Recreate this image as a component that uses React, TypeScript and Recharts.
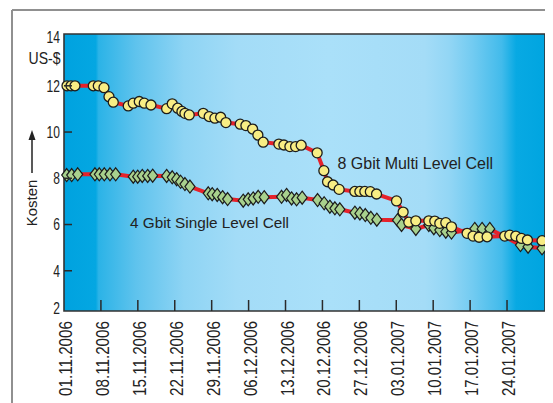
import React from 'react';
import { ComposedChart, Line, XAxis, YAxis, CartesianGrid, ReferenceArea } from 'recharts';

// x: days since 01.11.2006, y: cost in US-$
const xTickDays = [0, 7, 14, 21, 28, 35, 42, 49, 56, 63, 70, 77, 84];
const xTickLabels = [
  '01.11.2006', '08.11.2006', '15.11.2006', '22.11.2006', '29.11.2006', '06.12.2006',
  '13.12.2006', '20.12.2006', '27.12.2006', '03.01.2007', '10.01.2007', '17.01.2007', '24.01.2007',
];
const yTicks = [2, 4, 6, 8, 10, 12, 14];
const yMin = 2.26;
const yMax = 14.24;
const xMax = 91.2;

const mlcDays = [
  0.57, 1.33, 2.08, 5.55, 6.5, 7.58, 8.53, 9.34, 12.18, 13.13, 14.27, 15.22, 16.49,
  19.46, 20.52, 21.55, 22.36, 22.93, 23.74, 26.4, 27.53, 28.61, 29.7, 30.7,
  33.41, 34.49, 35.76, 36.76, 37.77, 40.74, 41.69, 42.83, 43.91, 44.97,
  48.0, 49.27, 49.97, 51.03, 52.17, 55.15, 56.1, 57.04, 58.08, 59.26,
  63.05, 64.3, 65.38, 66.71, 69.17, 70.3, 71.25, 72.39, 73.47,
  76.43, 77.56, 78.7, 80.22, 83.57, 84.52, 85.66, 86.74, 87.87, 90.64,
];
const mlcCost = [
  12.0, 12.0, 12.0, 12.0, 12.0, 11.92, 11.53, 11.29, 11.13, 11.25, 11.32, 11.25, 11.17,
  11.01, 11.22, 11.03, 10.89, 10.81, 10.74, 10.81, 10.67, 10.6, 10.64, 10.41,
  10.34, 10.28, 10.13, 9.87, 9.56, 9.48, 9.44, 9.37, 9.37, 9.43,
  9.1, 8.33, 7.85, 7.71, 7.52, 7.43, 7.43, 7.43, 7.42, 7.32,
  7.02, 6.54, 6.1, 6.16, 6.16, 6.15, 6.05, 6.08, 5.9,
  5.62, 5.5, 5.45, 5.47, 5.5, 5.54, 5.5, 5.4, 5.33, 5.3,
];

const slcDays = [
  0.51, 1.46, 2.6, 5.87, 6.69, 7.64, 8.72, 9.8, 13.13, 13.97, 14.84, 15.86, 16.81,
  19.46, 20.52, 21.36, 22.11, 22.93, 23.88, 27.35, 28.1, 29.05, 30.07, 31.02,
  33.98, 34.93, 35.87, 36.82, 37.96, 41.25, 42.2, 43.15, 44.1, 45.16,
  48.08, 49.33, 50.41, 51.36, 52.3, 55.15, 56.1, 57.13, 58.18, 59.31,
  63.24, 64.0, 66.71, 69.17, 70.12, 71.25, 72.39, 73.47,
  77.88, 79.27, 80.73, 86.55, 87.99, 90.64,
];
const slcCost = [
  8.14, 8.14, 8.17, 8.17, 8.17, 8.17, 8.17, 8.17, 8.07, 8.07, 8.1, 8.1, 8.11,
  8.1, 8.04, 7.96, 7.85, 7.75, 7.64, 7.35, 7.31, 7.28, 7.18, 7.1,
  7.03, 7.09, 7.13, 7.2, 7.18, 7.2, 7.28, 7.13, 7.09, 7.16,
  7.06, 6.92, 6.77, 6.7, 6.66, 6.51, 6.48, 6.41, 6.29, 6.21,
  6.19, 5.98, 5.81, 5.98, 5.84, 5.76, 5.69, 5.65,
  5.81, 5.81, 5.81, 5.11, 5.04, 4.97,
];

const mlcData = mlcDays.map((day, i) => ({ day, cost: mlcCost[i] }));
const slcData = slcDays.map((day, i) => ({ day, cost: slcCost[i] }));

const labelFont = '"Liberation Sans", Arial, sans-serif';
const textFont = '"Liberation Sans", Arial, sans-serif';
const ink = '#222';

const CircleDot = (p: any) => {
  if (p.cx == null || p.cy == null) return <g key={`c${p.index}`} />;
  return (
    <circle key={`c${p.index}`} cx={p.cx} cy={p.cy} r={5} fill="#f8ed84" stroke="#1c1c1c" strokeWidth={1.3} />
  );
};

const DiamondDot = (p: any) => {
  if (p.cx == null || p.cy == null) return <g key={`d${p.index}`} />;
  const { cx, cy } = p;
  return (
    <polygon
      key={`d${p.index}`}
      points={`${cx},${cy - 6.5} ${cx + 5},${cy} ${cx},${cy + 6.5} ${cx - 5},${cy}`}
      fill="#a8d18d"
      stroke="#1c1c1c"
      strokeWidth={1.2}
    />
  );
};

const YTick = (p: any) => {
  const v = p.payload.value;
  const { x, y } = p;
  const dy = v === 14 ? -2.8 : v === 2 ? -9 : 0;
  const s = String(v);
  return (
    <g>
      {v !== 2 && v !== 14 && (
        <line x1={x + 4} x2={x + 12} y1={y} y2={y} stroke="#2a2a2a" strokeWidth={1.5} />
      )}
      <text
        x={x}
        y={y + dy}
        dy="0.36em"
        textAnchor="end"
        fontFamily={labelFont}
        fontSize={16.5}
        fill={ink}
        textLength={s.length * 6.7}
        lengthAdjust="spacingAndGlyphs"
      >
        {s}
      </text>
      {v === 14 && (
        <text
          x={x + 0.5}
          y={y + dy + 21.3}
          dy="0.36em"
          textAnchor="end"
          fontFamily={labelFont}
          fontSize={16.5}
          fill={ink}
          textLength={32}
          lengthAdjust="spacingAndGlyphs"
        >
          US-$
        </text>
      )}
    </g>
  );
};

const XTick = (p: any) => {
  const { x, y } = p;
  const idx = xTickDays.indexOf(p.payload.value);
  const label = idx >= 0 ? xTickLabels[idx] : '';
  return (
    <g>
      {p.payload.value !== 0 && (
        <line x1={x} x2={x} y1={y - 10} y2={y - 21} stroke="#2a2a2a" strokeWidth={1.5} />
      )}
      <text
        x={x}
        y={y}
        transform={`rotate(-90 ${x} ${y})`}
        textAnchor="end"
        dy={8}
        fontFamily={labelFont}
        fontSize={17.5}
        fill={ink}
        textLength={75}
        lengthAdjust="spacingAndGlyphs"
      >
        {label}
      </text>
    </g>
  );
};

export default function App() {
  return (
    <div style={{ position: 'relative', width: 545, height: 395 }}>
      <svg
        width={553}
        height={403}
        style={{ position: 'absolute', left: -8, top: -8, pointerEvents: 'none' }}
      >
        <line x1={12} y1={10} x2={12} y2={403} stroke="#909090" strokeWidth={2} />
        <line x1={12} y1={10} x2={553} y2={10} stroke="#909090" strokeWidth={2} />
      </svg>
      <ComposedChart
        width={545}
        height={395}
        margin={{ top: 26, right: 8, bottom: 12, left: 0 }}
        style={{ position: 'absolute', left: 0, top: 0 }}
      >
        <defs>
          <linearGradient id="bgGrad" x1="0" y1="0" x2="1" y2="0">
            <stop offset="0%" stopColor="#00a2df" />
            <stop offset="6.6%" stopColor="#04a7e2" />
            <stop offset="7.2%" stopColor="#2bb3e7" />
            <stop offset="15%" stopColor="#5fc3ed" />
            <stop offset="25%" stopColor="#8ed4f4" />
            <stop offset="36%" stopColor="#a3dcf7" />
            <stop offset="55%" stopColor="#aae0f9" />
            <stop offset="75%" stopColor="#a4dcf7" />
            <stop offset="80%" stopColor="#93d6f5" />
            <stop offset="85%" stopColor="#72cbf1" />
            <stop offset="91%" stopColor="#42bbeb" />
            <stop offset="94%" stopColor="#08a9e3" />
            <stop offset="100%" stopColor="#00a5e0" />
          </linearGradient>
        </defs>
        <CartesianGrid horizontal={false} vertical={false} fill="url(#bgGrad)" stroke="none" />
        <XAxis
          dataKey="day"
          type="number"
          domain={[0, xMax]}
          ticks={xTickDays}
          interval={0}
          height={80}
          tickSize={0}
          tickMargin={10}
          tickLine={false}
          axisLine={false}
          tick={XTick}
        />
        <YAxis
          type="number"
          domain={[yMin, yMax]}
          ticks={yTicks}
          interval={0}
          width={56}
          tickSize={0}
          tickMargin={4}
          tickLine={false}
          axisLine={false}
          tick={YTick}
        />
        <Line data={slcData} dataKey="cost" type="linear" stroke="#e5222b" strokeWidth={4} dot={false} activeDot={false} isAnimationActive={false} />
        <Line data={mlcData} dataKey="cost" type="linear" stroke="#e5222b" strokeWidth={4} dot={false} activeDot={false} isAnimationActive={false} />
        <Line data={slcData} dataKey="cost" type="linear" stroke="none" dot={DiamondDot} activeDot={false} isAnimationActive={false} />
        <Line data={mlcData} dataKey="cost" type="linear" stroke="none" dot={CircleDot} activeDot={false} isAnimationActive={false} />
        <ReferenceArea x1={0} x2={xMax} y1={yMin} y2={yMax} fill="none" stroke="#333" strokeWidth={1.6} ifOverflow="visible" />
      </ComposedChart>
      <svg
        width={553}
        height={403}
        style={{ position: 'absolute', left: -8, top: -8, pointerEvents: 'none' }}
      >
        <polygon points="32,130 28.5,140 35.5,140" fill={ink} />
        <line x1={32} y1={139} x2={32} y2={173} stroke={ink} strokeWidth={1.5} />
        <text x={37} y={203} transform="rotate(-90 37 203)" textAnchor="middle" fontFamily={textFont} fontSize={15} fill={ink}>
          Kosten
        </text>
        <text x={337.5} y={169} fontFamily={textFont} fontSize={16} fill={ink}>
          8 Gbit Multi Level Cell
        </text>
        <text x={130} y={227.5} fontFamily={textFont} fontSize={15.3} fill={ink}>
          4 Gbit Single Level Cell
        </text>
      </svg>
    </div>
  );
}
